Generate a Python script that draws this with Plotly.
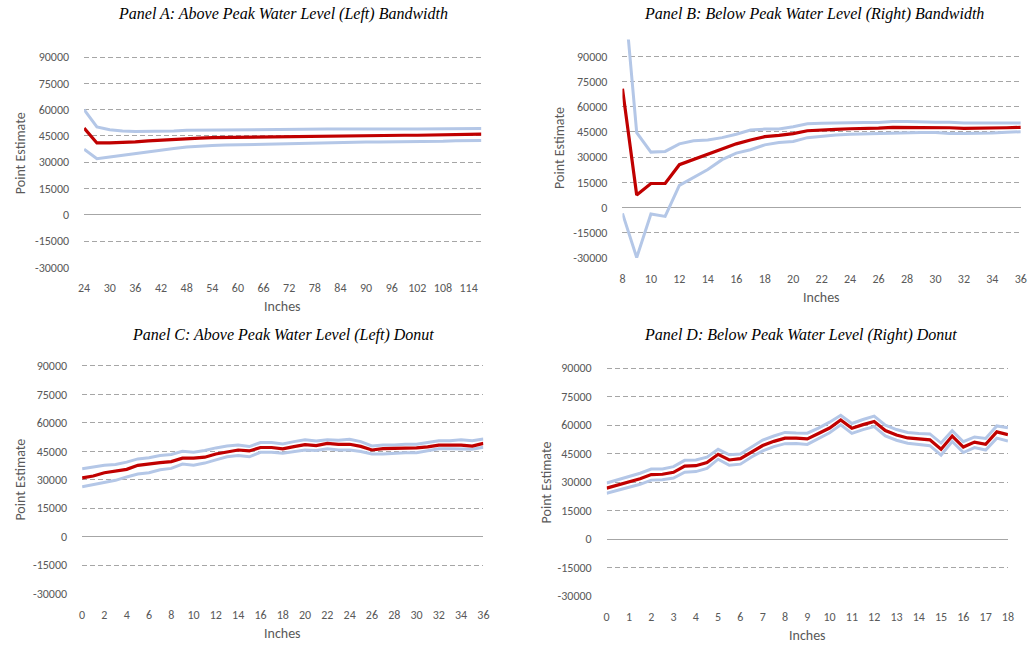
import plotly.graph_objects as go

# ---------------- Data ----------------
# Panel A: Above Peak Water Level (Left) Bandwidth
a_inches = [24, 27, 30, 33, 36, 39, 42, 45, 48, 51, 54, 57, 60, 63, 66, 69, 72, 75, 78, 81,
            84, 87, 90, 93, 96, 99, 102, 105, 108, 111, 114, 117]
a_upper = [60000, 50200, 48500, 47800, 47600, 47600, 47600, 47800, 48200, 48300, 48300, 48300,
           48300, 48300, 48400, 48800, 48900, 48900, 48900, 48900, 48900, 49000, 49000, 49000,
           49000, 49000, 49000, 49000, 49100, 49200, 49200, 49200]
a_point = [49500, 41000, 41000, 41100, 41600, 42200, 42700, 43200, 43500, 43800, 44000, 44100,
           44200, 44400, 44600, 44700, 44700, 44800, 44900, 45000, 45300, 45400, 45400, 45400,
           45400, 45400, 45400, 45500, 45500, 45900, 46000, 46000]
a_lower = [37500, 32000, 33000, 34000, 35200, 36200, 37000, 37800, 38700, 39300, 39600, 39800,
           40000, 40200, 40400, 40500, 40800, 41000, 41000, 41100, 41300, 41500, 41600, 41600,
           41600, 41600, 41600, 41700, 42000, 42300, 42400, 42400]

# Panel B: Below Peak Water Level (Right) Bandwidth
b_inches = list(range(8, 37))
b_upper = [140000, 44600, 33000, 33400, 37900, 39700, 40200, 41600, 43600, 46100, 46700, 46700,
           48100, 49900, 50100, 50400, 50600, 50600, 50600, 51200, 51200, 50800, 50800, 50800,
           50300, 50300, 50300, 50300, 50300]
b_point = [70700, 7500, 14300, 14300, 25500, 28500, 31800, 34700, 37900, 40200, 42200, 43000,
           44000, 45700, 46300, 46500, 46900, 47000, 47300, 47700, 47700, 47700, 47700, 47500,
           47100, 47100, 47100, 47500, 47700]
b_lower = [-3500, -29800, -3900, -5300, 13200, 17700, 22600, 28500, 32400, 34400, 37300, 38700,
           39300, 41600, 42600, 43200, 43600, 43800, 44200, 44600, 44600, 44600, 44600, 44000,
           44000, 44000, 44400, 44800, 45100]

# Panel C: Above Peak Water Level (Left) Donut
c_inches = list(range(0, 37))
c_upper = [35800, 36700, 37600, 38100, 39300, 41000, 41600, 42800, 43300, 45000, 44500, 45400,
           46800, 47800, 48300, 47500, 49600, 49600, 48900, 50100, 51100, 50400, 51100, 50800,
           51300, 50100, 47800, 48300, 48300, 48700, 48700, 49700, 50600, 50600, 51100, 50600,
           51500]
c_point = [30950, 32000, 33700, 34400, 35500, 37600, 38100, 39000, 39600, 41400, 41400, 41900,
           43600, 44700, 45700, 45200, 47000, 47000, 46300, 47500, 48500, 48000, 49200, 48700,
           48700, 47600, 45700, 46400, 46400, 46400, 46800, 47300, 48300, 48300, 48300, 47800,
           49200]
c_lower = [26300, 27500, 28500, 29700, 31500, 33000, 33700, 35300, 36000, 38300, 37700, 38800,
           40500, 42100, 42800, 42100, 44500, 44500, 44000, 44900, 45700, 45400, 46300, 45700,
           45700, 44900, 43600, 43600, 44000, 44300, 44300, 45200, 46300, 46300, 46200, 46100,
           47100]

# Panel D: Below Peak Water Level (Right) Donut
d_inches = [0, 0.5, 1, 1.5, 2, 2.5, 3, 3.5, 4, 4.5, 5, 5.5, 6, 6.5, 7, 7.5, 8, 8.5, 9, 9.5,
            10, 10.5, 11, 11.5, 12, 12.5, 13, 13.5, 14, 14.5, 15, 15.5, 16, 16.5, 17, 17.5, 18]
d_upper = [29600, 31300, 32800, 34700, 36900, 37000, 38200, 41500, 41700, 43200, 47300, 44400,
           44800, 48600, 52200, 54300, 56200, 55900, 55800, 58500, 61600, 65200, 60900, 63000,
           64800, 60000, 57700, 56200, 55600, 55400, 50600, 57100, 51300, 53800, 53000, 59600,
           58700]
d_point = [26900, 28600, 30000, 31800, 34000, 34200, 35200, 38500, 38700, 40300, 44700, 41700,
           42400, 46000, 49300, 51500, 53200, 53200, 52800, 55600, 58500, 62700, 58400, 60300,
           62000, 57200, 54800, 53300, 52800, 52300, 47300, 54300, 48500, 51100, 50000, 56500,
           55000]
d_lower = [24200, 25700, 27300, 28900, 31100, 31300, 32200, 35300, 35600, 37300, 42100, 38900,
           39500, 43300, 46500, 48700, 50300, 50400, 49900, 52800, 56000, 60200, 55700, 57700,
           59300, 54400, 52100, 50500, 49900, 49200, 44200, 51400, 45600, 48200, 46900, 53200,
           51600]

titles = ["Panel A: Above Peak Water Level (Left) Bandwidth",
          "Panel B: Below Peak Water Level (Right) Bandwidth",
          "Panel C: Above Peak Water Level (Left) Donut",
          "Panel D: Below Peak Water Level (Right) Donut"]
y_ticks = [-30000, -15000, 0, 15000, 30000, 45000, 60000, 75000, 90000]
x_title = "Inches"
y_title = "Point Estimate"

# ---------------- Layout geometry (pixels) ----------------
W, H = 1035, 650
RED = "#C00000"
BLUE = "#B4C7E7"
GRAY_TXT = "#595959"
GRID = "#A6A6A6"
TICK_FONT = dict(family="Carlito, Calibri, 'Liberation Sans', Arial", size=12, color=GRAY_TXT)

panels = [
    dict(x=a_inches, up=a_upper, pt=a_point, lo=a_lower, xr=[24, 117], dt=6, t0=24,
         box=(79, 481, 40, 270.3), title_xy=(280, 14), xt_xy=(280, 310), yt_xy=(15, 155)),
    dict(x=b_inches, up=b_upper, pt=b_point, lo=b_lower, xr=[8, 36], dt=2, t0=8,
         box=(623.7, 1026.7, 40, 260.7), title_xy=(817, 14), xt_xy=(825, 301), yt_xy=(560, 150)),
    dict(x=c_inches, up=c_upper, pt=c_point, lo=c_lower, xr=[0, 36], dt=2, t0=0,
         box=(77, 483, 350.8, 600), title_xy=(280, 339), xt_xy=(280, 640), yt_xy=(15, 485)),
    dict(x=d_inches, up=d_upper, pt=d_point, lo=d_lower, xr=[0, 18], dt=1, t0=0,
         box=(607.7, 1013.7, 353, 602.7), title_xy=(804, 339), xt_xy=(811, 642), yt_xy=(547, 488)),
]

fig = go.Figure()
layout_axes = {}
annotations = []

for i, p in enumerate(panels, start=1):
    xa = "x" if i == 1 else f"x{i}"
    ya = "y" if i == 1 else f"y{i}"
    for series, color, wd in ((p["up"], BLUE, 3), (p["lo"], BLUE, 3), (p["pt"], RED, 3.2)):
        fig.add_trace(go.Scatter(x=p["x"], y=series, mode="lines", xaxis=xa, yaxis=ya,
                                 line=dict(color=color, width=wd), showlegend=False,
                                 hoverinfo="x+y"))
    l, r, t, b = p["box"]
    xkey = "xaxis" if i == 1 else f"xaxis{i}"
    ykey = "yaxis" if i == 1 else f"yaxis{i}"
    layout_axes[xkey] = dict(domain=[l / W, r / W], anchor=ya, range=p["xr"],
                             tick0=p["t0"], dtick=p["dt"], showgrid=False, zeroline=False,
                             showline=False, ticks="", tickfont=TICK_FONT,
                             ticklabelstandoff=12)
    layout_axes[ykey] = dict(domain=[1 - b / H, 1 - t / H], anchor=xa, range=[-30000, 100000],
                             tickvals=y_ticks, ticktext=[str(v) for v in y_ticks],
                             showgrid=True, gridcolor=GRID, gridwidth=1, griddash="5px,3px",
                             zeroline=True, zerolinecolor="#A6A6A6", zerolinewidth=1.3,
                             showline=False, ticks="", tickfont=TICK_FONT,
                             ticklabelstandoff=14)
    tx, ty = p["title_xy"]
    annotations.append(dict(text=f"<i>{titles[i-1]}</i>", x=tx / W, y=1 - ty / H,
                            xref="paper", yref="paper", showarrow=False,
                            xanchor="center", yanchor="middle",
                            font=dict(family="'Liberation Serif', 'Times New Roman', serif",
                                      size=16, color="#000000")))
    ax_, ay_ = p["xt_xy"]
    annotations.append(dict(text=x_title, x=ax_ / W, y=1 - ay_ / H, xref="paper", yref="paper",
                            showarrow=False, xanchor="center", yanchor="middle",
                            font=dict(family=TICK_FONT["family"], size=14, color=GRAY_TXT)))
    yx_, yy_ = p["yt_xy"]
    annotations.append(dict(text=y_title, x=yx_ / W, y=1 - yy_ / H, xref="paper", yref="paper",
                            showarrow=False, xanchor="center", yanchor="middle", textangle=-90,
                            font=dict(family=TICK_FONT["family"], size=14, color=GRAY_TXT)))

fig.update_layout(width=W, height=H, margin=dict(l=0, r=0, t=0, b=0),
                  paper_bgcolor="white", plot_bgcolor="white",
                  annotations=annotations, **layout_axes)

fig.write_html("out.html", config={"displayModeBar": False},
               post_script="document.body.style.margin='0';document.body.style.overflow='hidden';")
